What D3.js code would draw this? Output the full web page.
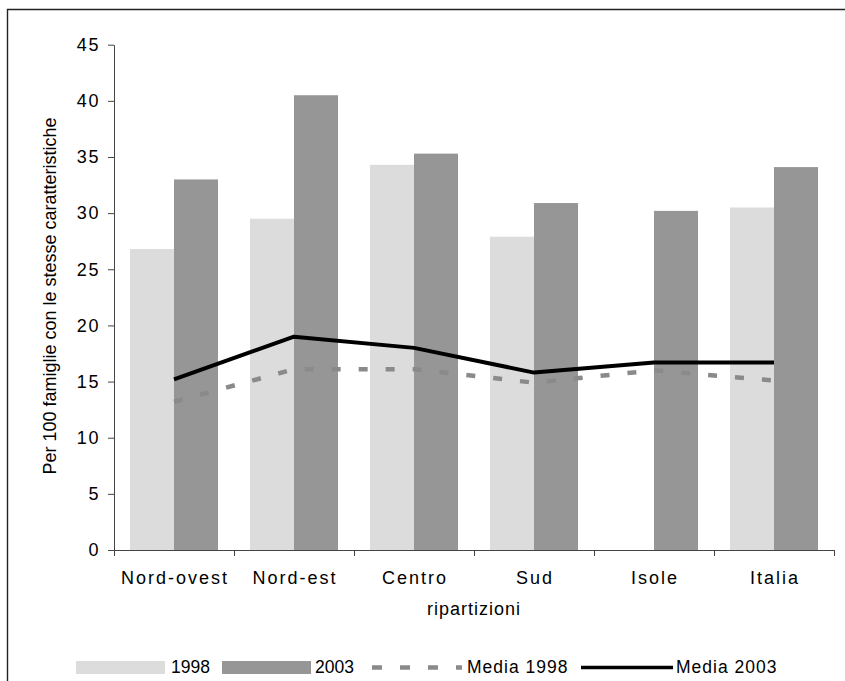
<!DOCTYPE html>
<html>
<head>
<meta charset="utf-8">
<script src="https://cdn.jsdelivr.net/npm/d3@7"></script>
<style>
  html, body { margin: 0; padding: 0; background: #fff; }
  svg { display: block; font-family: "Liberation Sans", Arial, sans-serif; }
</style>
</head>
<body>
<svg id="chart" width="845" height="681"></svg>
<script>
// Ripartizioni geografiche
const categories = ["Nord-ovest", "Nord-est", "Centro", "Sud", "Isole", "Italia"];
// Valori per 100 famiglie con le stesse caratteristiche
const values1998 = [26.8, 29.5, 34.3, 27.9, null, 30.5];
const values2003 = [33.0, 40.5, 35.3, 30.9, 30.2, 34.1];
const media1998 = [13.2, 16.1, 16.1, 14.9, 16.0, 15.1];
const media2003 = [15.2, 19.0, 18.0, 15.8, 16.7, 16.7];
const yTicks = [0, 5, 10, 15, 20, 25, 30, 35, 40, 45];
const seriesNames = ["1998", "2003"];

const colLight = "#dcdcdc";
const colDark = "#969696";
const colDash = "#8a8a8a";

const svg = d3.select("#chart");

// cornice esterna
svg.append("path")
  .attr("d", "M845,9.5H7.5V681")
  .attr("fill", "none")
  .attr("stroke", "#222")
  .attr("stroke-width", 1.4);

const plotLeft = 114, plotRight = 834, plotTop = 44.7, plotBottom = 550;

const x0 = d3.scaleBand()
  .domain(categories)
  .range([plotLeft, plotRight])
  .paddingInner(0.26667)
  .paddingOuter(0.13333);

const x1 = d3.scaleBand()
  .domain(seriesNames)
  .range([0, x0.bandwidth()]);

const y = d3.scaleLinear().domain([0, 45]).range([plotBottom, plotTop]);

// barre
const bars = svg.append("g");
categories.forEach((c, i) => {
  [[values1998[i], "1998", colLight], [values2003[i], "2003", colDark]].forEach(([v, s, col]) => {
    if (v == null) return;
    bars.append("rect")
      .attr("x", x0(c) + x1(s))
      .attr("y", y(v))
      .attr("width", x1.bandwidth())
      .attr("height", y(0) - y(v))
      .attr("fill", col);
  });
});

// linee delle medie
const cx = c => x0(c) + x0.bandwidth() / 2;
const line = d3.line().x(d => cx(d[0])).y(d => y(d[1]));

svg.append("path")
  .datum(categories.map((c, i) => [c, media1998[i]]))
  .attr("d", line)
  .attr("fill", "none")
  .attr("stroke", colDash)
  .attr("stroke-width", 4.5)
  .attr("stroke-dasharray", "9,18");

svg.append("path")
  .datum(categories.map((c, i) => [c, media2003[i]]))
  .attr("d", line)
  .attr("fill", "none")
  .attr("stroke", "#000")
  .attr("stroke-width", 4)
  .attr("stroke-linejoin", "round");

// asse y
const yAxis = svg.append("g")
  .attr("transform", `translate(${plotLeft},0)`)
  .call(d3.axisLeft(y).tickValues(yTicks).tickSize(6).tickSizeOuter(0).tickPadding(8));
yAxis.select(".domain").attr("stroke", "#444");
yAxis.selectAll(".tick line").attr("stroke", "#444");
yAxis.selectAll(".tick text")
  .attr("font-size", 18)
  .attr("letter-spacing", 1.6)
  .attr("fill", "#000")
  .attr("font-family", "Liberation Sans, Arial, sans-serif");

// asse x
const xAxis = svg.append("g");
xAxis.append("line")
  .attr("x1", plotLeft).attr("x2", plotRight)
  .attr("y1", plotBottom + 0.5).attr("y2", plotBottom + 0.5)
  .attr("stroke", "#444");
const edges = d3.range(categories.length + 1).map(i => plotLeft + i * x0.step());
xAxis.selectAll(".edge")
  .data(edges)
  .join("line")
  .attr("x1", d => d + 0.5).attr("x2", d => d + 0.5)
  .attr("y1", plotBottom).attr("y2", plotBottom + 6)
  .attr("stroke", "#444");
xAxis.selectAll(".lab")
  .data(categories)
  .join("text")
  .attr("x", d => cx(d) + 1)
  .attr("y", 584)
  .attr("text-anchor", "middle")
  .attr("font-size", 18)
  .attr("letter-spacing", 2)
  .text(d => d);

// titoli degli assi
svg.append("text")
  .attr("x", (plotLeft + plotRight) / 2)
  .attr("y", 615)
  .attr("text-anchor", "middle")
  .attr("font-size", 18)
  .attr("letter-spacing", 1)
  .text("ripartizioni");

svg.append("text")
  .attr("transform", "translate(56,296) rotate(-90)")
  .attr("text-anchor", "middle")
  .attr("font-size", 18)
  .text("Per 100 famiglie con le stesse caratteristiche");

// legenda
const lg = svg.append("g");
const legendY = 667.5;
lg.append("rect").attr("x", 76).attr("y", 661).attr("width", 89).attr("height", 13).attr("fill", colLight);
lg.append("text").attr("x", 171).attr("y", 673).attr("font-size", 17.5).text("1998");
lg.append("rect").attr("x", 222).attr("y", 661).attr("width", 89).attr("height", 13).attr("fill", colDark);
lg.append("text").attr("x", 315).attr("y", 673).attr("font-size", 17.5).text("2003");
lg.append("line")
  .attr("x1", 372).attr("x2", 462).attr("y1", legendY).attr("y2", legendY)
  .attr("stroke", colDash).attr("stroke-width", 4.5).attr("stroke-dasharray", "10,18");
lg.append("text").attr("x", 467).attr("y", 673).attr("font-size", 17.5).attr("letter-spacing", 1).text("Media 1998");
lg.append("line")
  .attr("x1", 581).attr("x2", 673).attr("y1", legendY).attr("y2", legendY)
  .attr("stroke", "#000").attr("stroke-width", 3.5);
lg.append("text").attr("x", 676).attr("y", 673).attr("font-size", 17.5).attr("letter-spacing", 1).text("Media 2003");
</script>
</body>
</html>
